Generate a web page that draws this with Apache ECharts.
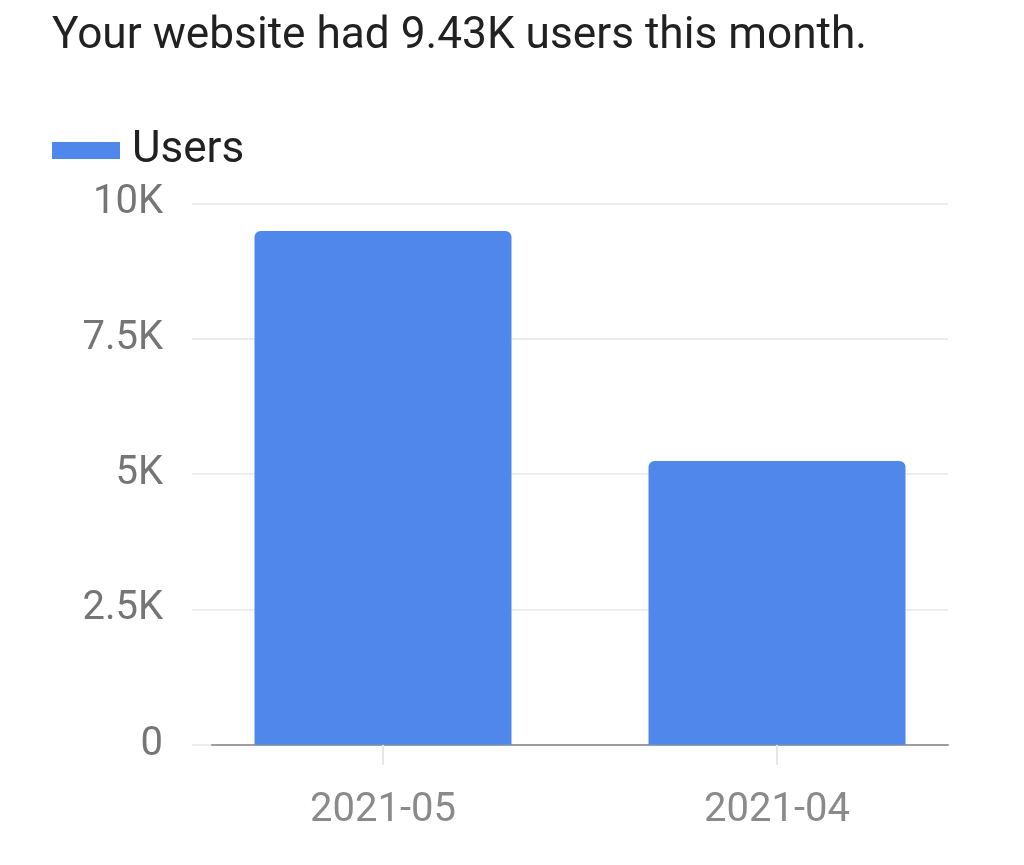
<!DOCTYPE html>
<html>
<head>
<meta charset="utf-8">
<script src="https://cdn.jsdelivr.net/npm/echarts@6/dist/echarts.min.js"></script>
<style>
html,body{margin:0;padding:0;background:#fff;}
#chart{width:1024px;height:865px;}
</style>
</head>
<body>
<div id="chart"></div>
<script>
const titleText = 'Your website had 9.43K users this month.';
const seriesName = 'Users';
const categories = ['2021-05', '2021-04'];
const usersValues = [9490, 5240];
const yTickValues = [0, 2500, 5000, 7500, 10000];
const yTickLabels = ['0', '2.5K', '5K', '7.5K', '10K'];

const FONT = 'Roboto';
const chart = echarts.init(document.getElementById('chart'));
chart.setOption({
  animation: false,
  backgroundColor: '#ffffff',
  textStyle: { fontFamily: FONT },
  title: {
    text: titleText,
    left: 52, top: 15, padding: 0,
    textStyle: { fontFamily: FONT, fontSize: 44.2, fontWeight: 'normal', color: '#212121' }
  },
  legend: {
    data: [seriesName],
    left: 52, top: 128.5, padding: 0,
    itemWidth: 68, itemHeight: 17,
    icon: 'rect',
    textStyle: { fontFamily: FONT, fontSize: 44, color: '#212121', padding: [0, 0, 0, 7] }
  },
  grid: [
    { left: 192, right: 76, top: 203.4, bottom: 120.3 },
    { left: 186, right: 50, top: 203.4, bottom: 120.3 },
    { left: 212, right: 76, top: 203.4, bottom: 120.3 }
  ],
  xAxis: [
    { gridIndex: 0, type: 'value', min: 0, max: 1, show: true,
      axisLine: { show: false }, axisTick: { show: false }, axisLabel: { show: false }, splitLine: { show: false } },
    { gridIndex: 1, type: 'category', data: categories,
      axisLine: { show: false },
      axisTick: { show: true, alignWithLabel: true, length: 20, lineStyle: { color: '#e6e6e6', width: 2 } },
      axisLabel: { fontFamily: FONT, fontSize: 40, color: '#8a8a8a', margin: 46 },
      splitLine: { show: false } },
    { gridIndex: 2, type: 'value', min: 0, max: 1,
      axisLine: { show: true, onZero: false, lineStyle: { color: '#9e9e9e', width: 2 } },
      axisTick: { show: false }, axisLabel: { show: false }, splitLine: { show: false } }
  ],
  yAxis: [
    { gridIndex: 0, type: 'value', min: yTickValues[0], max: yTickValues[yTickValues.length - 1], interval: 2500,
      axisLine: { show: false }, axisTick: { show: false },
      axisLabel: { fontFamily: FONT, fontSize: 40, color: '#757575', margin: 29,
        formatter: v => yTickLabels[yTickValues.indexOf(v)] },
      splitLine: { show: true, lineStyle: { color: '#ececec', width: 2 } } },
    { gridIndex: 1, type: 'value', min: yTickValues[0], max: yTickValues[yTickValues.length - 1], show: false },
    { gridIndex: 2, type: 'value', min: 0, max: 1, show: false }
  ],
  series: [
    { name: seriesName, type: 'bar', xAxisIndex: 1, yAxisIndex: 1,
      data: usersValues, barWidth: 257,
      itemStyle: { color: '#5087EA', borderRadius: [6, 6, 0, 0] } }
  ]
});
</script>
</body>
</html>
